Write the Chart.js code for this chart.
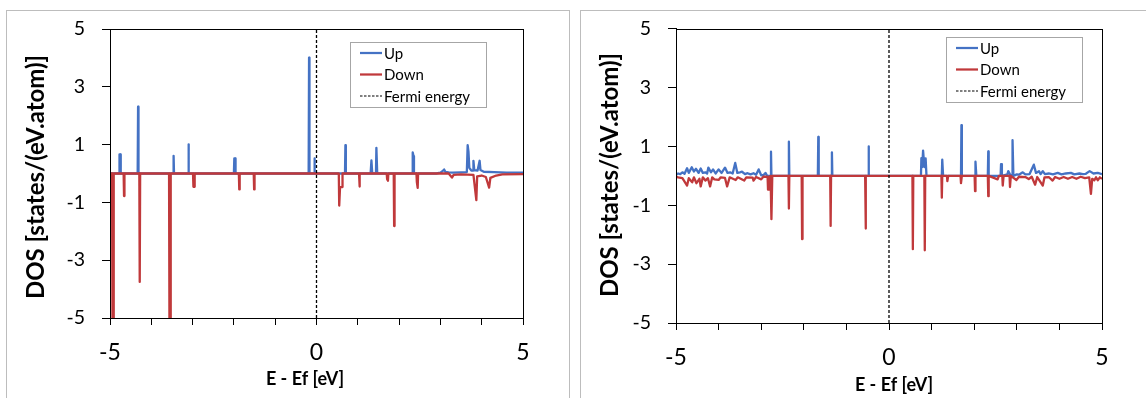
<!DOCTYPE html>
<html>
<head>
<meta charset="utf-8">
<script src="https://cdn.jsdelivr.net/npm/chart.js@4.4.1/dist/chart.umd.min.js"></script>
<style>
  html, body { margin: 0; padding: 0; background: #fff; }
  body { width: 1146px; height: 398px; position: relative; overflow: hidden; }
  .panel { position: absolute; border: 1px solid #bdbdbd; background: #fff; }
  canvas { position: absolute; top: 0; }
</style>
</head>
<body>
<div class="panel" style="left:6px; top:10px; width:562px; height:420px;"></div>
<div class="panel" style="left:580px; top:10px; width:600px; height:420px;"></div>
<canvas id="dosA" width="573" height="398" style="left:0px;"></canvas>
<canvas id="dosB" width="573" height="398" style="left:573px;"></canvas>
<script>
// ---- axis ticks ----
const yTickValues = [-5, -3, -1, 1, 3, 5];
const xTickLabels = [-5, 0, 5];
const seriesNames = ['Up', 'Down', 'Fermi energy'];

// ---- panel A: spin-resolved DOS (energy in eV, DOS in states/(eV.atom)) ----
const upEnergyA = [-5, -4.78, -4.77, -4.75, -4.74, -4.33, -4.32, -4.31, -3.47, -3.46, -3.45,
  -3.11, -3.10, -3.09, -2.00, -1.99, -1.97, -1.96, -0.19, -0.18, -0.17, -0.06, -0.05, -0.04,
  0.69, 0.70, 0.71, 1.31, 1.33, 1.35, 1.44, 1.45, 1.47, 2.32, 2.33, 2.35, 2.36,
  2.90, 3.00, 3.05, 3.09, 3.12, 3.20, 3.30, 3.50, 3.64, 3.66, 3.68, 3.70, 3.75, 3.79, 3.80, 3.82,
  3.90, 3.95, 3.97, 4.05, 4.30, 4.60, 5];
const upDosA = [0, 0, 0.66, 0.66, 0, 0, 2.31, 0, 0, 0.61, 0,
  0, 1.01, 0, 0, 0.52, 0.52, 0, 0, 4.01, 0, 0, 0.52, 0,
  0, 0.98, 0, 0, 0.45, 0, 0, 0.89, 0, 0, 0.73, 0.60, 0,
  0, 0.03, 0.08, 0.14, 0.06, 0.04, 0.03, 0.04, 0.05, 0.98, 0.75, 0.20, 0.10, 0.10, 0.44, 0.12,
  0.10, 0.44, 0.12, 0.06, 0.05, 0.03, 0.03];
const downEnergyA = [-5, -4.95, -4.94, -4.92, -4.91, -4.67, -4.66, -4.65, -4.29, -4.28, -4.27,
  -3.57, -3.56, -3.54, -3.53, -2.99, -2.98, -2.96, -2.95, -1.88, -1.87, -1.86, -1.52, -1.51, -1.50,
  0.54, 0.55, 0.57, 0.62, 0.63, 1.03, 1.04, 1.05, 1.70, 1.71, 1.73, 1.74, 1.87, 1.88, 1.89,
  2.42, 2.43, 2.45, 2.46, 3.20, 3.28, 3.32, 3.50, 3.80, 3.87, 3.89, 4.00, 4.10, 4.18, 4.21,
  4.35, 4.50, 5];
const downDosA = [0, 0, -5.5, -5.5, 0, 0, -0.78, 0, 0, -3.75, 0,
  0, -5.5, -5.5, 0, 0, -0.46, -0.46, 0, 0, -0.55, 0, 0, -0.55, 0,
  0, -1.11, -0.47, -0.47, 0, 0, -0.45, 0, 0, -0.20, -0.25, 0, 0, -1.82, 0,
  0, -0.30, -0.50, 0, 0, -0.14, -0.05, -0.03, -0.05, -0.92, -0.10, -0.07, -0.12, -0.49, -0.15,
  -0.07, -0.03, -0.02];

// ---- panel B ----
const upEnergyB = [-5, -4.95, -4.90, -4.85, -4.80, -4.74, -4.70, -4.63, -4.58, -4.53, -4.47,
  -4.42, -4.37, -4.31, -4.27, -4.24, -4.18, -4.13, -4.07, -4.00, -3.93, -3.85, -3.79, -3.73,
  -3.67, -3.61, -3.56, -3.50, -3.45, -3.38, -3.32, -3.25, -3.18, -3.12, -3.06, -3.00, -2.95,
  -2.90, -2.86, -2.78, -2.77, -2.76, -2.36, -2.35, -2.34, -1.67, -1.66, -1.65, -1.35, -1.34,
  -1.33, -0.49, -0.48, -0.47, 0.75, 0.76, 0.78, 0.80, 0.83, 0.86, 0.88, 1.24, 1.25, 1.27,
  1.69, 1.70, 1.71, 2.02, 2.03, 2.05, 2.32, 2.33, 2.34, 2.62, 2.63, 2.65, 2.78, 2.80, 2.84,
  2.89, 2.90, 2.92, 3.00, 3.05, 3.14, 3.20, 3.30, 3.40, 3.45, 3.52, 3.56, 3.61, 3.66, 3.75,
  3.85, 3.96, 4.05, 4.15, 4.27, 4.35, 4.47, 4.55, 4.62, 4.71, 4.80, 4.90, 5];
const upDosB = [0.04, 0.08, 0.06, 0.12, 0.07, 0.26, 0.10, 0.29, 0.15, 0.24, 0.10,
  0.25, 0.10, 0.12, 0.08, 0.28, 0.12, 0.22, 0.08, 0.22, 0.10, 0.28, 0.10, 0.12,
  0.08, 0.44, 0.10, 0.12, 0.14, 0.06, 0.09, 0.05, 0.09, 0.04, 0.22, 0.02, 0.02,
  0.10, 0, 0, 0.82, 0, 0, 1.16, 0, 0, 1.32, 0, 0, 0.80,
  0, 0, 1.00, 0, 0, 0.60, 0.30, 0.86, 0.30, 0.59, 0, 0, 0.55, 0,
  0, 1.72, 0, 0, 0.48, 0, 0, 0.83, 0, 0, 0.40, 0, 0.05, 0.16, 0.05,
  0, 1.21, 0, 0.05, 0.04, 0.12, 0.05, 0.06, 0.38, 0.10, 0.16, 0.06, 0.16, 0.06, 0.08,
  0.05, 0.10, 0.05, 0.08, 0.10, 0.05, 0.08, 0.06, 0.07, 0.16, 0.08, 0.10, 0.06];
const downEnergyB = [-5, -4.95, -4.85, -4.74, -4.70, -4.62, -4.58, -4.52, -4.45, -4.42, -4.37,
  -4.31, -4.25, -4.20, -4.15, -4.10, -4.00, -3.95, -3.85, -3.80, -3.74, -3.60, -3.55, -3.40,
  -3.35, -3.20, -3.18, -3.12, -3.00, -2.95, -2.85, -2.84, -2.82, -2.78, -2.76, -2.74, -2.36,
  -2.35, -2.34, -2.05, -2.04, -2.03, -1.38, -1.37, -1.36, -0.56, -0.55, -0.54, 0.55, 0.56,
  0.57, 0.83, 0.84, 0.85, 1.23, 1.24, 1.25, 1.36, 1.37, 1.39, 1.68, 1.69, 1.71, 2.01, 2.02,
  2.03, 2.32, 2.33, 2.34, 2.55, 2.58, 2.66, 2.67, 2.69, 2.83, 2.84, 2.86, 2.99, 3.05, 3.20,
  3.28, 3.35, 3.43, 3.48, 3.61, 3.65, 3.75, 3.84, 3.90, 4.00, 4.10, 4.20, 4.30, 4.40, 4.50,
  4.60, 4.70, 4.74, 4.77, 4.82, 4.86, 4.90, 4.95, 5];
const downDosB = [-0.02, -0.05, -0.08, -0.33, -0.08, -0.22, -0.05, -0.25, -0.10, -0.36, -0.05,
  -0.16, -0.08, -0.36, -0.05, -0.12, -0.14, -0.05, -0.07, -0.36, -0.05, -0.14, -0.05, -0.16,
  -0.05, -0.06, -0.16, -0.04, -0.12, -0.03, -0.03, -0.47, -0.05, 0, -1.47, 0, 0,
  -1.11, 0, 0, -2.15, 0, 0, -1.70, 0, 0, -1.79, 0, 0, -2.49,
  0, 0, -2.53, 0, 0, -0.74, 0, 0, -0.18, 0, 0, -0.25, 0, 0, -0.52,
  0, 0, -0.69, 0, -0.12, 0, 0, -0.33, 0, 0, -0.38, 0, -0.14, -0.03, -0.04,
  -0.11, -0.03, -0.30, -0.04, -0.33, -0.05, -0.04, -0.16, -0.04, -0.10, -0.04, -0.10, -0.04, -0.10, -0.03,
  -0.08, -0.05, -0.61, -0.10, -0.15, -0.05, -0.15, -0.05, -0.10];

const BLUE = '#4472c4';
const RED = '#c0393b';
const FONT = 'Lato, "Open Sans", sans-serif';

function points(xs, ys) {
  return xs.map((x, i) => ({ x: x, y: ys[i] }));
}

// frame, legend box and axis titles
function decorations(opts) {
  return {
    id: 'decor',
    afterDraw(chart) {
      const ctx = chart.ctx;
      const a = chart.chartArea;
      ctx.save();
      // plot frame
      ctx.strokeStyle = '#000';
      ctx.lineWidth = 1;
      ctx.strokeRect(Math.round(a.left) + 0.5, Math.round(a.top) + 0.5,
        Math.round(a.right - a.left), Math.round(a.bottom - a.top));

      // legend
      const L = opts.legend;
      ctx.fillStyle = '#fff';
      ctx.fillRect(L.x, L.y, L.w, L.h);
      ctx.strokeStyle = '#a6a6a6';
      ctx.strokeRect(L.x + 0.5, L.y + 0.5, L.w, L.h);
      const styles = [
        { color: BLUE, width: 2.25, dash: [] },
        { color: RED, width: 2.25, dash: [] },
        { color: '#000', width: 1.2, dash: [2.5, 1.5] }
      ];
      ctx.font = '15px ' + FONT;
      ctx.textBaseline = 'middle';
      ctx.textAlign = 'left';
      seriesNames.forEach((name, i) => {
        const cy = L.y + 11 + i * 21.5;
        ctx.beginPath();
        ctx.setLineDash(styles[i].dash);
        ctx.strokeStyle = styles[i].color;
        ctx.lineWidth = styles[i].width;
        ctx.moveTo(L.x + 10, cy);
        ctx.lineTo(L.x + 32, cy);
        ctx.stroke();
        ctx.setLineDash([]);
        ctx.fillStyle = '#000';
        ctx.fillText(name, L.x + 34, cy + 1);
      });

      // axis titles
      ctx.fillStyle = '#000';
      ctx.font = 'bold 18px ' + FONT;
      ctx.textAlign = 'center';
      ctx.fillText('E - Ef [eV]', opts.xTitle.x, opts.xTitle.y);
      ctx.save();
      ctx.translate(opts.yTitle.x, opts.yTitle.y);
      ctx.rotate(-Math.PI / 2);
      ctx.font = 'bold 24px ' + FONT;
      ctx.fillText('DOS [states/(eV.atom)]', 0, 0);
      ctx.restore();
      ctx.restore();
    }
  };
}

function makeChart(id, up, down, layout) {
  const ctx = document.getElementById(id);
  return new Chart(ctx, {
    type: 'scatter',
    data: {
      datasets: [
        { label: seriesNames[2], data: [{ x: 0, y: -5 }, { x: 0, y: 5 }], showLine: true,
          borderColor: '#000', borderWidth: 1.3, borderDash: [3, 2], pointRadius: 0, order: 0 },
        { label: seriesNames[1], data: down, showLine: true, borderColor: RED, borderWidth: 2.3,
          pointRadius: 0, borderJoinStyle: 'round', order: 1 },
        { label: seriesNames[0], data: up, showLine: true, borderColor: BLUE, borderWidth: 2.3,
          pointRadius: 0, borderJoinStyle: 'round', order: 2 }
      ]
    },
    options: {
      responsive: false,
      animation: false,
      devicePixelRatio: 1,
      layout: { padding: { left: 0, top: layout.top, right: layout.right, bottom: 0 } },
      plugins: { legend: { display: false }, tooltip: { enabled: false } },
      scales: {
        x: {
          type: 'linear', min: -5, max: 5,
          afterFit: s => { s.height = layout.xHeight; },
          afterBuildTicks: s => { s.ticks = [-5, -4, -3, -2, -1, 0, 1, 2, 3, 4, 5].map(v => ({ value: v })); },
          ticks: {
            autoSkip: false, maxRotation: 0, padding: 14, color: '#000',
            font: { family: FONT, size: 23 },
            callback: v => xTickLabels.includes(v) ? String(v) : ''
          },
          grid: { drawOnChartArea: false, drawTicks: true, tickLength: 7, color: '#000' },
          border: { color: '#000', width: 1 }
        },
        y: {
          type: 'linear', min: -5, max: 5,
          afterFit: s => { s.width = layout.left; },
          afterBuildTicks: s => { s.ticks = yTickValues.map(v => ({ value: v })); },
          ticks: { padding: 17, color: '#000', font: { family: FONT, size: 19.5 } },
          grid: { drawOnChartArea: false, drawTicks: true, tickLength: 8, color: '#000' },
          border: { color: '#000', width: 1 }
        }
      }
    },
    plugins: [decorations(layout)]
  });
}

makeChart('dosA', points(upEnergyA, upDosA), points(downEnergyA, downDosA), {
  left: 110, top: 29, right: 50, xHeight: 80,
  legend: { x: 350, y: 42, w: 136, h: 65 },
  xTitle: { x: 305, y: 379 }, yTitle: { x: 36, y: 177 }
});
makeChart('dosB', points(upEnergyB, upDosB), points(downEnergyB, downDosB), {
  left: 103, top: 27, right: 44, xHeight: 75,
  legend: { x: 373, y: 37, w: 136, h: 65 },
  xTitle: { x: 321, y: 385 }, yTitle: { x: 37, y: 175 }
});
</script>
</body>
</html>
